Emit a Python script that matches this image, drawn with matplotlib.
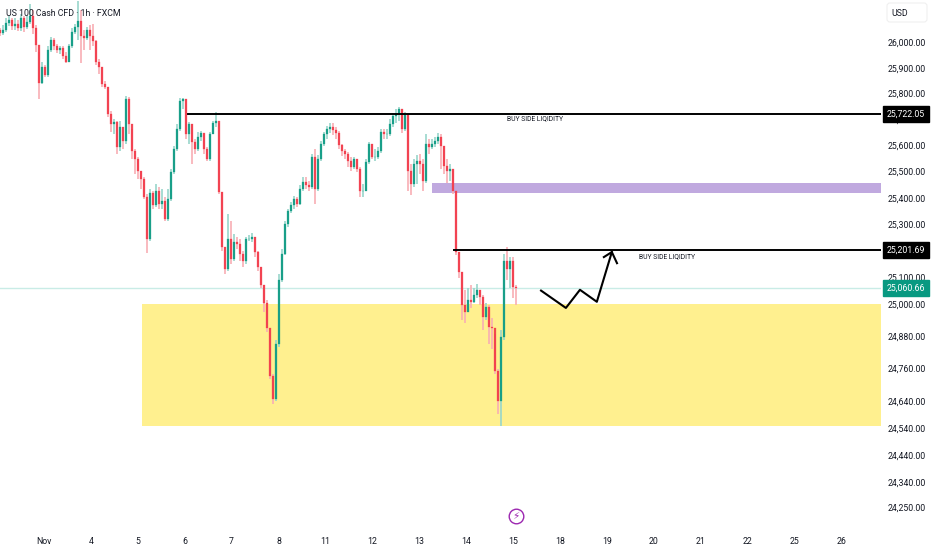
#US 100 Cash CFD 1h - grafico de velas con zonas de liquidez
import matplotlib
matplotlib.use('Agg')
import matplotlib.pyplot as plt
from matplotlib.patches import FancyBboxPatch
from matplotlib.ticker import NullLocator
import numpy as np

#Cierres, maximos y minimos (15.63 velas por sesion)
closes = [26035,26046,26073,26085,26062,26069,26054,26092,26058,26077,
          26100,26054,25989,25840,25901,25871,25970,26008,25985,25970,
          25978,25947,25924,25985,26039,26058,26081,26023,26016,26046,
          26023,26004,25924,25901,25836,25825,25722,25684,25691,25596,
          25672,25619,25779,25684,25580,25550,25504,25473,25405,25244,
          25420,25374,25428,25378,25389,25321,25397,25500,25588,25664,
          25771,25779,25645,25684,25615,25588,25634,25649,25588,25550,
          25645,25687,25695,25424,25214,25130,25244,25168,25233,25225,
          25187,25160,25244,25244,25252,25195,25137,25072,25004,24911,
          24731,24646,24849,25091,25187,25302,25351,25374,25397,25378,
          25435,25462,25450,25443,25557,25435,25550,25607,25645,25664,
          25672,25661,25649,25603,25580,25569,25542,25519,25550,25512,
          25428,25428,25538,25607,25557,25557,25580,25653,25645,25645,
          25684,25714,25722,25741,25664,25722,25504,25454,25531,25542,
          25531,25466,25607,25596,25607,25619,25634,25599,25523,25504,
          25512,25428,25195,25118,24996,24970,25015,25008,25034,25053,
          25027,24952,24989,24915,24911,24749,24638,24875,25160,25130,
          25160,25065,25060.66]
highs = [26054,26066,26092,26100,26092,26092,26085,26108,26100,26100,
         26150,26123,26066,25962,25924,25909,25985,26020,26016,25993,
         25985,25985,25962,25993,26054,26069,26161,26123,26046,26058,
         26066,26069,26008,25932,25901,25848,25825,25733,25703,25695,
         25695,25672,25790,25787,25664,25588,25557,25504,25481,25416,
         25435,25428,25454,25443,25435,25405,25435,25512,25599,25684,
         25783,25783,25779,25691,25684,25626,25653,25657,25645,25596,
         25653,25695,25729,25687,25424,25214,25340,25313,25263,25252,
         25244,25198,25252,25260,25267,25252,25198,25137,25072,25015,
         24911,24738,24867,25111,25206,25313,25359,25386,25409,25405,
         25450,25481,25481,25466,25569,25588,25565,25619,25653,25676,
         25687,25687,25672,25657,25607,25588,25577,25557,25557,25550,
         25519,25454,25550,25615,25607,25588,25596,25664,25664,25664,
         25703,25726,25741,25748,25741,25729,25722,25531,25550,25565,
         25569,25550,25645,25626,25626,25634,25649,25645,25599,25550,
         25531,25512,25428,25195,25118,25053,25061,25072,25061,25076,
         25053,25034,25004,24996,24948,24886,24756,24904,25187,25214,
         25175,25175,25072]
lows = [26023,26027,26039,26062,26046,26046,26043,26043,26039,26050,
        26069,26031,25962,25779,25836,25863,25863,25962,25970,25959,
        25955,25932,25920,25924,25978,26031,26008,25920,25970,26008,
        25970,25985,25909,25875,25825,25817,25710,25653,25645,25569,
        25580,25588,25607,25645,25550,25493,25473,25435,25397,25191,
        25237,25359,25366,25359,25359,25313,25313,25389,25493,25580,
        25657,25741,25626,25607,25531,25569,25580,25619,25569,25542,
        25542,25645,25672,25416,25198,25114,25122,25149,25160,25206,
        25160,25137,25149,25237,25233,25175,25122,25061,24970,24897,
        24720,24627,24638,24841,25084,25183,25290,25344,25359,25366,
        25374,25428,25435,25428,25435,25378,25428,25542,25599,25626,
        25649,25642,25626,25588,25561,25550,25519,25504,25512,25500,
        25405,25405,25428,25531,25550,25542,25550,25573,25626,25626,
        25638,25672,25687,25695,25649,25657,25428,25412,25443,25454,
        25493,25428,25458,25569,25588,25596,25607,25512,25493,25458,
        25466,25416,25183,25099,24941,24930,24970,24985,25004,25023,
        24996,24904,24941,24849,24830,24738,24590,24546,24867,25091,
        25061,25023,24996]
first_open = 26046

day_labels = ['Nov','4','5','6','7','8','11','12','13','14','15','18','19','20','21','22','25','26']
price_ticks = [26000,25900,25800,25700,25600,25500,25400,25300,25100,25000,
               24880,24760,24640,24540,24440,24340,24250]
level_high = 25722.05
level_mid = 25201.69
last_price = 25060.66
yellow_zone = [25000,24546]
purple_zone = [25420,25458]
path_days = [10.60,11.13,11.43,11.79,12.11]
path_prices = [25050,24985,25053,25008,25195]
head_days = [11.94,12.11,12.22]
head_prices = [25176,25195,25153]

verde = '#089981'
rojo = '#f23645'
tinta = '#131722'
letra = 'Roboto'

fig = plt.figure(figsize=(9.32,5.5),dpi=100)
ax = fig.add_axes([0,25/550,881/932,525/550])
ax.set_yscale('log')

closes = np.array(closes)
opens = np.append(first_open,closes[:-1])#Cada vela abre donde cerro la anterior
x = -0.938+np.arange(len(closes))/15.63
sube = closes>=opens
colores = [verde if s else rojo for s in sube]
mechas = ['#98d6cb' if s else '#f8aeb4' for s in sube]

#Zonas y niveles
ax.axhspan(yellow_zone[1],yellow_zone[0],xmin=(2.09+0.938)/18.788,color='#fff08f',lw=0,zorder=1)
ax.axhspan(purple_zone[0],purple_zone[1],xmin=(8.27+0.938)/18.788,color='#c0a9df',lw=0,zorder=1)
ax.axhline(last_price,color='#c9ece6',lw=1,zorder=1)

#Velas
ax.vlines(x,lows,highs,colors=mechas,lw=1.2,zorder=2)
ax.bar(x,np.abs(closes-opens),bottom=np.minimum(closes,opens),width=0.04,
       color=colores,edgecolor=colores,linewidth=0.2,alpha=0.88,zorder=3)

ax.plot([3.07,17.85],[level_high,level_high],color='black',lw=1.4,zorder=4)
ax.plot([8.74,17.85],[level_mid,level_mid],color='black',lw=1.4,zorder=4)
ax.plot(path_days,path_prices,color='black',lw=1.5,zorder=4)
ax.plot(head_days,head_prices,color='black',lw=1.5,zorder=4)
ax.text(10.47,25703,'BUY SIDE LIQIDITY',fontsize=4.9,family=letra,color=tinta,ha='center',va='center',zorder=5)
ax.text(13.28,25179,'BUY SIDE LIQIDITY',fontsize=4.9,family=letra,color=tinta,ha='center',va='center',zorder=5)

ax.set_xlim(-0.938,17.85)
ax.set_ylim(24186,26164)
for s in ax.spines.values():
    s.set_visible(False)
ax.yaxis.tick_right()
ax.yaxis.set_minor_locator(NullLocator())
ax.set_yticks(price_ticks)
ax.set_yticklabels(['{:,.2f}'.format(p) for p in price_ticks],fontsize=6.3,family=letra,color=tinta)
ax.set_xticks(np.arange(len(day_labels)))
ax.set_xticklabels(day_labels,fontsize=6.3,family=letra,color=tinta)
ax.tick_params(axis='both',length=0)
ax.tick_params(axis='y',pad=5)
ax.tick_params(axis='x',pad=8.5)

#Etiquetas de precio a la derecha
trans = ax.get_yaxis_transform()
for precio,fondo in [(level_high,'black'),(level_mid,'black'),(last_price,verde)]:
    ax.text(1.0068,precio,'{:,.2f}'.format(precio),transform=trans,fontsize=6.3,family=letra,
            color='white',ha='left',va='center',clip_on=False,zorder=10,
            bbox=dict(boxstyle='square,pad=0.42',facecolor=fondo,edgecolor=fondo))

fig.text(6/932,1-13/550,'US 100 Cash CFD · 1h · FXCM',fontsize=6.3,family=letra,color=tinta,va='center')

#Caja de la moneda
fig.add_artist(FancyBboxPatch((887,528),40,19,boxstyle='round,pad=0,rounding_size=3',transform=None,
                              facecolor='white',edgecolor='#f0f0f0',lw=0.8))
fig.text(891/932,1-14/550,'USD',fontsize=6.3,family=letra,color=tinta,ha='left',va='center')

#Icono del rayo
rayo_x = 516/881*18.788-0.938
ax.plot([rayo_x],[24219],marker='o',ms=10.5,mfc='white',mec='#9c27b0',mew=1,zorder=6,clip_on=False)
ax.text(rayo_x,24219,'\u26a1',family='DejaVu Sans',fontsize=7.5,color='#9c27b0',ha='center',va='center',zorder=7)

fig.savefig('out.png',dpi=100)
